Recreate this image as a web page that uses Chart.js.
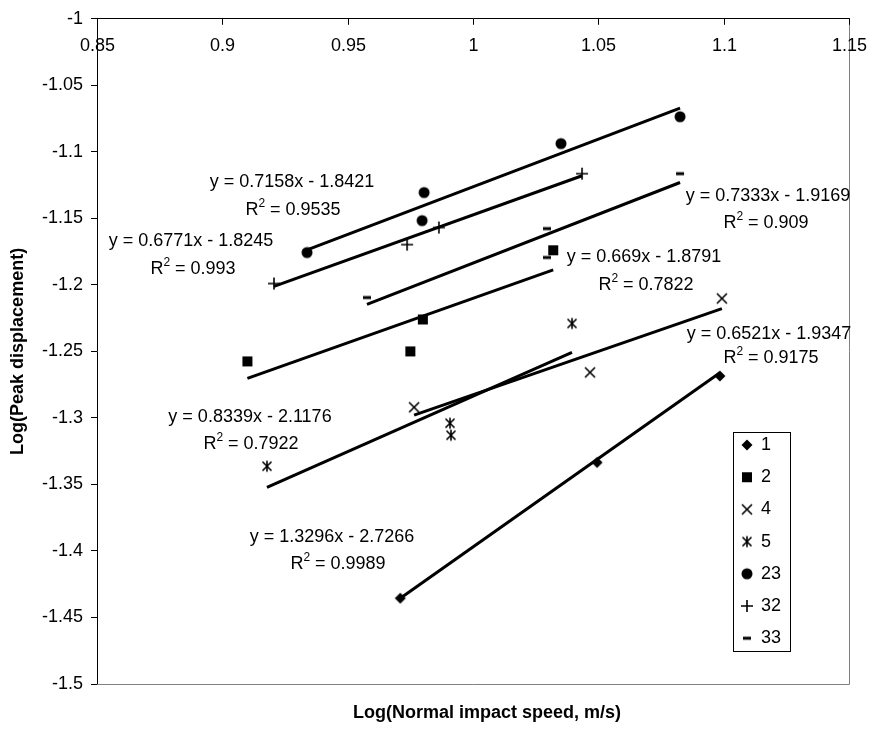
<!DOCTYPE html>
<html><head><meta charset="utf-8">
<script src="https://cdn.jsdelivr.net/npm/chart.js@4.4.1/dist/chart.umd.min.js"></script>
<style>html,body{margin:0;padding:0;background:#fff}canvas{display:block}</style>
</head><body>
<canvas id="c" width="876" height="731"></canvas>
<script>
// ---- data ----
const seriesNames = ['1', '2', '4', '5', '23', '32', '33'];
const x1 = [0.971, 1.0495, 1.0985];
const y1 = [-1.4355, -1.3335, -1.2685];
const x2 = [0.910, 0.975, 0.980, 1.032];
const y2 = [-1.2575, -1.250, -1.226, -1.174];
const x4 = [0.9765, 1.0467, 1.0993];
const y4 = [-1.292, -1.2658, -1.2102];
const x5 = [0.9178, 0.9908, 0.9912, 1.0395];
const y5 = [-1.3363, -1.304, -1.313, -1.229];
const x23 = [0.9338, 0.9797, 0.9805, 1.0351, 1.0826];
const y23 = [-1.1757, -1.1517, -1.1306, -1.0938, -1.0736];
const x32 = [0.9206, 0.9737, 0.9864, 1.0435];
const y32 = [-1.199, -1.1697, -1.1569, -1.1164];
const x33 = [0.9577, 1.0295, 1.0295, 1.0826];
const y33 = [-1.2095, -1.1577, -1.1794, -1.1164];
// trendline equations shown on the chart (same order as seriesNames)
const slopes = [1.3296, 0.669, 0.6521, 0.8339, 0.7158, 0.6771, 0.7333];
const intercepts = [-2.7266, -1.8791, -1.9347, -2.1176, -1.8421, -1.8245, -1.9169];
const rSquared = ['0.9989', '0.7822', '0.9175', '0.7922', '0.9535', '0.993', '0.909'];
const xTicks = [0.85, 0.9, 0.95, 1, 1.05, 1.1, 1.15];
const yTicks = [-1, -1.05, -1.1, -1.15, -1.2, -1.25, -1.3, -1.35, -1.4, -1.45, -1.5];
const xTitle = 'Log(Normal impact speed, m/s)';
const yTitle = 'Log(Peak displacement)';

// ---- presentation ----
const FONT = '"Liberation Sans", Arial, Helvetica, sans-serif';
const FS = 18;
// equation label centres (px): [cx, yLine1, cx2, yLine2]
const labelPos = [
  [332, 537, 338, 564],
  [644, 257, 646, 285],
  [769, 334, 771, 358],
  [250, 417, 251, 444],
  [292, 182, 293, 210],
  [191, 241, 193, 269],
  [768, 196, 766, 223]
];
const markerTypes = ['diamond', 'square', 'x', 'star', 'circle', 'plus', 'dash'];

function makeMarker(type) {
  const s = 16, c = 8;
  const cv = document.createElement('canvas');
  cv.width = s; cv.height = s;
  const g = cv.getContext('2d');
  g.fillStyle = '#000'; g.strokeStyle = '#000'; g.lineWidth = 1.6; g.lineCap = 'butt';
  g.beginPath();
  if (type === 'diamond') {
    g.moveTo(c, c - 5.5); g.lineTo(c + 5.5, c); g.lineTo(c, c + 5.5); g.lineTo(c - 5.5, c); g.closePath(); g.fill();
  } else if (type === 'square') {
    g.fillRect(c - 5, c - 5, 10, 10);
  } else if (type === 'x') {
    g.moveTo(c - 5, c - 5); g.lineTo(c + 5, c + 5); g.moveTo(c + 5, c - 5); g.lineTo(c - 5, c + 5); g.stroke();
  } else if (type === 'star') {
    g.moveTo(c - 4.5, c - 4.5); g.lineTo(c + 4.5, c + 4.5); g.moveTo(c + 4.5, c - 4.5); g.lineTo(c - 4.5, c + 4.5);
    g.moveTo(c, c - 5.5); g.lineTo(c, c + 5.5); g.stroke();
  } else if (type === 'circle') {
    g.arc(c, c, 5.5, 0, Math.PI * 2); g.fill();
  } else if (type === 'plus') {
    g.moveTo(c - 6, c); g.lineTo(c + 6, c); g.moveTo(c, c - 6); g.lineTo(c, c + 6); g.stroke();
  } else if (type === 'dash') {
    g.fillRect(c - 4, c - 1.5, 8, 3);
  }
  return cv;
}
const markers = markerTypes.map(makeMarker);

const xsAll = [x1, x2, x4, x5, x23, x32, x33];
const ysAll = [y1, y2, y4, y5, y23, y32, y33];

const datasets = [];
seriesNames.forEach((name, i) => {
  datasets.push({
    label: name,
    data: xsAll[i].map((x, k) => ({x: x, y: ysAll[i][k]})),
    pointStyle: markers[i], pointRadius: 6, pointHoverRadius: 6,
    showLine: false, order: 1
  });
});
seriesNames.forEach((name, i) => {
  const lo = Math.min(...xsAll[i]), hi = Math.max(...xsAll[i]);
  datasets.push({
    label: 'trend ' + name,
    data: [lo, hi].map(x => ({x: x, y: slopes[i] * x + intercepts[i]})),
    showLine: true, borderColor: '#000', borderWidth: 3, pointRadius: 0,
    pointHoverRadius: 0, fill: false, order: 2
  });
});

const fmt = v => String(Math.round(v * 100) / 100);

const deco = {
  id: 'deco',
  beforeDatasetsDraw(chart) {
    const ctx = chart.ctx, a = chart.chartArea, xs = chart.scales.x;
    ctx.save();
    ctx.strokeStyle = '#808080'; ctx.lineWidth = 1;
    ctx.beginPath();
    ctx.moveTo(a.left, Math.round(a.bottom) + 0.5);
    ctx.lineTo(Math.round(a.right) + 0.5, Math.round(a.bottom) + 0.5);
    ctx.lineTo(Math.round(a.right) + 0.5, a.top);
    ctx.stroke();
    ctx.strokeStyle = '#000'; ctx.fillStyle = '#000';
    ctx.font = FS + 'px ' + FONT; ctx.textAlign = 'center'; ctx.textBaseline = 'middle';
    xTicks.forEach(v => {
      const px = Math.round(xs.getPixelForValue(v)) + 0.5;
      ctx.beginPath(); ctx.moveTo(px, a.top); ctx.lineTo(px, a.top + 6); ctx.stroke();
      ctx.fillText(fmt(v), px, a.top + 27);
    });
    ctx.restore();
  },
  afterDraw(chart) {
    const ctx = chart.ctx;
    ctx.save();
    ctx.fillStyle = '#000';
    ctx.textBaseline = 'middle';
    // x title
    ctx.font = 'bold ' + FS + 'px ' + FONT; ctx.textAlign = 'center';
    ctx.fillText(xTitle, 487, 713);
    // equations
    ctx.font = FS + 'px ' + FONT;
    seriesNames.forEach((n, i) => {
      const p = labelPos[i];
      const eq = 'y = ' + slopes[i] + 'x - ' + Math.abs(intercepts[i]);
      ctx.textAlign = 'center';
      ctx.fillText(eq, p[0], p[1]);
      const tail = ' = ' + rSquared[i];
      ctx.font = FS + 'px ' + FONT;
      const wR = ctx.measureText('R').width, wT = ctx.measureText(tail).width;
      ctx.font = '12px ' + FONT;
      const w2 = ctx.measureText('2').width;
      const total = wR + w2 + wT;
      let x0 = p[2] - total / 2;
      ctx.textAlign = 'left';
      ctx.font = FS + 'px ' + FONT;
      ctx.fillText('R', x0, p[3]);
      ctx.font = '12px ' + FONT;
      ctx.fillText('2', x0 + wR, p[3] - 6);
      ctx.font = FS + 'px ' + FONT;
      ctx.fillText(tail, x0 + wR + w2, p[3]);
    });
    // legend
    const L = 733, T = 432, W = 57, H = 219;
    ctx.fillStyle = '#fff'; ctx.fillRect(L, T, W, H);
    ctx.strokeStyle = '#000'; ctx.lineWidth = 1;
    ctx.strokeRect(L + 0.5, T + 0.5, W, H);
    ctx.fillStyle = '#000'; ctx.textAlign = 'left'; ctx.font = FS + 'px ' + FONT;
    seriesNames.forEach((n, i) => {
      const yy = 445 + i * 32.2;
      ctx.drawImage(markers[i], 747 - 8, yy - 8);
      ctx.fillText(n, 761, yy);
    });
    ctx.restore();
  }
};

new Chart(document.getElementById('c'), {
  type: 'scatter',
  data: {datasets: datasets},
  options: {
    responsive: false, animation: false,
    events: [],
    layout: {padding: {top: 0, right: 27, bottom: 47, left: 0}},
    plugins: {legend: {display: false}, tooltip: {enabled: false}, title: {display: false}},
    scales: {
      x: {
        type: 'linear', position: 'top', min: 0.85, max: 1.15,
        afterBuildTicks: s => { s.ticks = xTicks.map(v => ({value: v})); },
        afterFit: s => { s.height = 18; },
        grid: {display: false},
        border: {display: true, color: '#000', width: 1},
        ticks: {display: false}
      },
      y: {
        type: 'linear', position: 'left', min: -1.5, max: -1,
        afterBuildTicks: s => { s.ticks = yTicks.map(v => ({value: v})); },
        afterFit: s => { s.width = 97; },
        grid: {drawOnChartArea: false, drawTicks: true, tickLength: 6, color: '#000'},
        border: {display: true, color: '#000', width: 1},
        ticks: {color: '#000', padding: 8, font: {family: FONT, size: FS}, callback: v => fmt(v)},
        title: {display: true, text: yTitle, color: '#000', padding: {top: 7, bottom: 0},
                font: {family: FONT, size: FS, weight: 'bold'}}
      }
    }
  },
  plugins: [deco]
});
</script>
</body></html>
